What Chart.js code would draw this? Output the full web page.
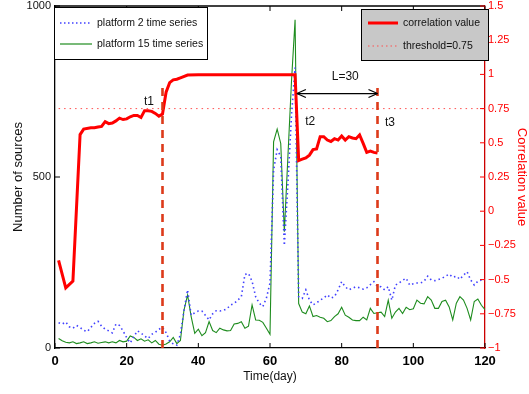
<!DOCTYPE html>
<html>
<head>
<meta charset="utf-8">
<script src="https://cdn.jsdelivr.net/npm/chart.js@4/dist/chart.umd.min.js"></script>
<style>
html,body{margin:0;padding:0;background:#fff;}
#wrap{width:529px;height:394px;position:relative;}
</style>
</head>
<body>
<div id="wrap"><canvas id="c" width="529" height="394"></canvas></div>
<script>
// ---- data ----
const days = Array.from({length: 120}, (_, i) => i + 1);

const platform2 = [
  74, 70, 76, 62, 58, 66, 60, 52, 48, 60,
  72, 78, 64, 55, 50, 44, 70, 66, 50, 30,
  15, 33, 50, 44, 35, 28, 40, 46, 55, 60,
  45, 20, 12, 8, 40, 110, 170, 96, 103, 108,
  108, 95, 82, 100, 109, 108, 110, 115, 126, 130,
  140, 150, 215, 218, 195, 150, 131, 121, 146, 190,
  520, 580, 560, 300, 480, 680, 820, 150, 145, 170,
  140, 126, 132, 140, 146, 155, 146, 150, 170, 194,
  179, 170, 175, 179, 176, 172, 176, 185, 194, 180,
  179, 170, 179, 140, 184, 190, 198, 204, 184, 188,
  190, 190, 195, 210, 199, 197, 200, 204, 210, 216,
  207, 210, 201, 213, 223, 199, 184, 195, 199, 200
];

const platform15 = [
  28, 21, 17, 15, 18, 13, 15, 18, 13, 15,
  18, 14, 16, 18, 15, 18, 15, 22, 18, 20,
  35, 31, 22, 27, 20, 24, 15, 22, 11, 8,
  12, 18, 31, 13, 22, 111, 155, 92, 43, 55,
  36, 45, 77, 51, 45, 58, 53, 50, 51, 70,
  72, 77, 58, 64, 126, 82, 81, 75, 58, 40,
  603, 640, 598, 340, 560, 780, 960, 130, 105, 100,
  123, 92, 95, 90, 87, 77, 80, 92, 100, 119,
  96, 90, 82, 80, 80, 90, 82, 116, 101, 103,
  105, 92, 140, 87, 105, 116, 101, 119, 112, 115,
  140, 131, 129, 150, 140, 116, 116, 136, 140, 120,
  82, 131, 150, 140, 116, 82, 136, 143, 125, 112
];

const corrDays = [1, 3, 5, 7, 8, 10, 11, 12, 13, 14, 15, 16, 17, 18, 19, 20,
  21, 22, 23, 24, 25, 26, 27, 28, 29, 30, 31, 32, 33, 34, 35, 37, 40, 50, 60, 67,
  68, 69, 70, 71, 72, 73, 74, 75, 76, 77, 78, 79, 80, 81, 82, 83, 84, 85, 86, 87, 88, 89, 90];
const corrValues = [-0.36, -0.56, -0.51, 0.56, 0.60, 0.61, 0.61, 0.615, 0.62, 0.655, 0.64, 0.645, 0.66, 0.68, 0.67, 0.675,
  0.69, 0.70, 0.70, 0.685, 0.735, 0.735, 0.73, 0.715, 0.695, 0.71, 0.87, 0.94, 0.96, 0.965, 0.975, 0.995, 0.997, 0.997, 0.997, 0.997,
  0.37, 0.38, 0.39, 0.41, 0.45, 0.455, 0.545, 0.545, 0.52, 0.51, 0.53, 0.52, 0.55, 0.52, 0.545, 0.535, 0.53, 0.557, 0.496, 0.43, 0.44, 0.43, 0.425];

const thresholdValue = 0.75;
const thresholdDays = [1, 120];

const markerDays = [30, 90];      // t1, t3 vertical dashed lines
const markerTop = 0.9;            // correlation-axis value where the dashed lines stop
const markerLabels = [
  {text: 't1', day: 26.2, value: 0.80},
  {text: 't2', day: 71.2, value: 0.655},
  {text: 't3', day: 93.5, value: 0.645}
];
const spanArrow = {from: 67.5, to: 90, value: 0.86, text: 'L=30', textDay: 81, textValue: 0.985};

const xTicks = [0, 20, 40, 60, 80, 100, 120];
const leftTicks = [0, 500, 1000];
const rightTicks = [-1, -0.75, -0.5, -0.25, 0, 0.25, 0.5, 0.75, 1, 1.25, 1.5];

const legendLeft = ['platform 2 time series', 'platform 15 time series'];
const legendRight = ['correlation value', 'threshold=0.75'];

// ---- styles ----
const FONT = '"Liberation Sans", Arial, sans-serif';
const BLUE = '#4040ff';
const GREEN = '#1e8c1e';
const RED = '#ff0000';
const MARK = '#dd3a1a';

function fmt(v) {
  const r = Math.round(v * 100) / 100;
  return r < 0 ? '\u2212' + String(Math.abs(r)) : String(r);
}

const decor = {
  id: 'decor',
  afterDraw(chart) {
    const ctx = chart.ctx, a = chart.chartArea;
    const sx = chart.scales.x, sl = chart.scales.y, sr = chart.scales.y1;
    const line = (x1, y1, x2, y2) => { ctx.beginPath(); ctx.moveTo(x1, y1); ctx.lineTo(x2, y2); ctx.stroke(); };
    ctx.save();
    // top border
    ctx.strokeStyle = '#000'; ctx.lineWidth = 1.3;
    line(a.left, a.top, a.right, a.top);
    // inward ticks
    ctx.lineWidth = 1;
    xTicks.forEach(v => { const p = sx.getPixelForValue(v); line(p, a.bottom, p, a.bottom - 5); line(p, a.top, p, a.top + 5); });
    leftTicks.forEach(v => { const p = sl.getPixelForValue(v); line(a.left, p, a.left + 5, p); });
    ctx.strokeStyle = RED;
    rightTicks.forEach(v => { const p = sr.getPixelForValue(v); line(a.right, p, a.right - 5, p); });

    // labels t1,t2,t3
    ctx.fillStyle = '#111';
    ctx.font = '12px ' + FONT;
    ctx.textAlign = 'center'; ctx.textBaseline = 'middle';
    markerLabels.forEach(m => ctx.fillText(m.text, sx.getPixelForValue(m.day), sr.getPixelForValue(m.value)));

    // double arrow
    const ax1 = sx.getPixelForValue(spanArrow.from), ax2 = sx.getPixelForValue(spanArrow.to);
    const ay = sr.getPixelForValue(spanArrow.value);
    ctx.strokeStyle = '#000'; ctx.lineWidth = 1.2;
    line(ax1, ay, ax2, ay);
    line(ax1, ay, ax1 + 9, ay - 4); line(ax1, ay, ax1 + 9, ay + 4);
    line(ax2, ay, ax2 - 9, ay - 4); line(ax2, ay, ax2 - 9, ay + 4);
    ctx.fillText(spanArrow.text, sx.getPixelForValue(spanArrow.textDay), sr.getPixelForValue(spanArrow.textValue));

    // left legend
    ctx.textAlign = 'left';
    ctx.font = '10.5px ' + FONT;
    ctx.fillStyle = '#fff'; ctx.fillRect(54, 7, 153, 52);
    ctx.strokeStyle = '#000'; ctx.lineWidth = 1; ctx.strokeRect(54.5, 7.5, 153, 52);
    ctx.strokeStyle = BLUE; ctx.lineWidth = 1.6; ctx.setLineDash([1.5, 2.5]);
    line(60, 23, 92, 23);
    ctx.setLineDash([]); ctx.strokeStyle = GREEN; ctx.lineWidth = 1.2;
    line(60, 44, 92, 44);
    ctx.fillStyle = '#111';
    ctx.fillText(legendLeft[0], 97, 23);
    ctx.fillText(legendLeft[1], 97, 44);

    // right legend
    ctx.fillStyle = '#c8c8c8'; ctx.fillRect(361, 9, 127, 51);
    ctx.strokeStyle = '#000'; ctx.lineWidth = 1; ctx.strokeRect(361.5, 9.5, 127, 51);
    ctx.strokeStyle = RED; ctx.lineWidth = 3;
    line(368, 23, 398, 23);
    ctx.lineWidth = 1; ctx.setLineDash([1.5, 3]); ctx.strokeStyle = '#ff5050';
    line(368, 46, 398, 46);
    ctx.setLineDash([]);
    ctx.fillStyle = '#111';
    ctx.fillText(legendRight[0], 403, 23);
    ctx.fillText(legendRight[1], 403, 46);
    ctx.restore();
  }
};

const pts = (xs, ys) => xs.map((x, i) => ({x: x, y: ys[i]}));

const datasets = [
  {label: 'marker t1', data: [{x: markerDays[0], y: -1}, {x: markerDays[0], y: markerTop}], yAxisID: 'y1',
   borderColor: MARK, borderWidth: 2.6, borderDash: [8, 6], pointRadius: 0, order: 0},
  {label: 'marker t3', data: [{x: markerDays[1], y: -1}, {x: markerDays[1], y: markerTop}], yAxisID: 'y1',
   borderColor: MARK, borderWidth: 2.6, borderDash: [8, 6], pointRadius: 0, order: 0},
  {label: legendRight[0], data: pts(corrDays, corrValues), yAxisID: 'y1',
   borderColor: RED, borderWidth: 3, pointRadius: 0, order: 1},
  {label: legendLeft[0], data: pts(days, platform2), yAxisID: 'y',
   borderColor: BLUE, borderWidth: 1.6, borderDash: [1.5, 3], pointRadius: 0, order: 2},
  {label: legendLeft[1], data: pts(days, platform15), yAxisID: 'y',
   borderColor: GREEN, borderWidth: 1.1, pointRadius: 0, order: 3},
  {label: legendRight[1], data: thresholdDays.map(d => ({x: d, y: thresholdValue})), yAxisID: 'y1',
   borderColor: '#ff5050', borderWidth: 1, borderDash: [1.5, 4], pointRadius: 0, order: 4}
];

new Chart(document.getElementById('c'), {
  type: 'line',
  data: {datasets: datasets},
  options: {
    responsive: false,
    animation: false,
    events: [],
    layout: {padding: {top: 6, left: 0, right: 0, bottom: 0}},
    plugins: {legend: {display: false}, tooltip: {enabled: false}},
    elements: {line: {tension: 0}},
    scales: {
      x: {
        type: 'linear', min: 0, max: 120,
        afterBuildTicks: s => { s.ticks = xTicks.map(v => ({value: v})); },
        afterFit: s => { s.height = 46; },
        grid: {drawOnChartArea: false, drawTicks: false},
        border: {color: '#000', width: 1.3},
        ticks: {color: '#000', padding: 6, font: {family: FONT, size: 13, weight: 'bold'}, maxRotation: 0},
        title: {display: true, text: 'Time(day)', color: '#111', padding: {top: 0, bottom: 10}, font: {family: FONT, size: 12}}
      },
      y: {
        position: 'left', min: 0, max: 1000,
        afterBuildTicks: s => { s.ticks = leftTicks.map(v => ({value: v})); },
        afterFit: s => { s.width = 55; s.paddingTop = 0; s.paddingBottom = 0; },
        grid: {drawOnChartArea: false, drawTicks: false},
        border: {color: '#000', width: 1.3},
        ticks: {color: '#111', padding: 4, font: {family: FONT, size: 11}, callback: v => String(v)},
        title: {display: true, text: 'Number of sources', color: '#111', padding: {top: 11, bottom: 0}, font: {family: FONT, size: 13}}
      },
      y1: {
        position: 'right', min: -1, max: 1.5,
        afterBuildTicks: s => { s.ticks = rightTicks.map(v => ({value: v})); },
        afterFit: s => { s.width = 44; s.paddingTop = 0; s.paddingBottom = 0; },
        grid: {drawOnChartArea: false, drawTicks: false},
        border: {color: '#cc0000', width: 1.3},
        ticks: {color: RED, padding: 3, font: {family: FONT, size: 11}, callback: v => fmt(v)},
        title: {display: true, text: 'Correlation value', color: RED, padding: {top: 0, bottom: 0}, font: {family: FONT, size: 13}}
      }
    }
  },
  plugins: [decor]
});
</script>
</body>
</html>
